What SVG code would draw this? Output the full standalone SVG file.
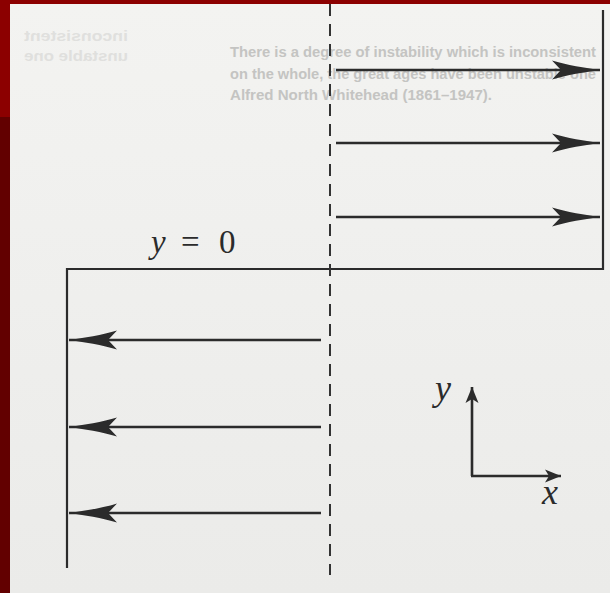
<svg xmlns="http://www.w3.org/2000/svg" width="610" height="593" viewBox="0 0 610 593">
<style>
.ln{stroke:#2b2b2b;fill:none;stroke-linecap:butt}
.arr{stroke:#2b2b2b;stroke-width:2.6;fill:none}
.dash{stroke:#333;stroke-width:2;stroke-dasharray:12 8;fill:none}
.bleed{font-family:"Liberation Sans",Arial,sans-serif;font-weight:bold;font-size:14px;fill:#c4c4c2}
.math{font-family:"Liberation Serif","Times New Roman",serif;fill:#2b2b2b}
</style>
<defs>
<marker id="big" markerUnits="userSpaceOnUse" markerWidth="52" markerHeight="22" viewBox="-50 -11 52 22" refX="0" refY="0" orient="auto">
<path d="M0,0 C-14,-2 -34,-5 -48,-9.5 L-39,0 L-48,9.5 C-34,5 -14,2 0,0 Z" fill="#2b2b2b"/>
</marker>
<marker id="small" markerUnits="userSpaceOnUse" markerWidth="20" markerHeight="16" viewBox="-18 -8 20 16" refX="0" refY="0" orient="auto">
<path d="M0,0 L-16,-6.5 L-12,0 L-16,6.5 Z" fill="#2b2b2b"/>
</marker>
<linearGradient id="paper" x1="0" y1="0" x2="0" y2="1">
<stop offset="0" stop-color="#f3f3f1"/>
<stop offset="1" stop-color="#ebebe9"/>
</linearGradient>
</defs>
<rect x="0" y="0" width="610" height="593" fill="#8c0000"/>
<rect x="0" y="117" width="10" height="476" fill="#620000"/>
<rect x="10" y="4" width="600" height="589" fill="url(#paper)"/>
<g id="bleed-text">
<text class="bleed" x="230" y="57" textLength="366" lengthAdjust="spacingAndGlyphs">There is a degree of instability which is inconsistent</text>
<text class="bleed" x="230" y="79" textLength="366" lengthAdjust="spacingAndGlyphs">on the whole, the great ages have been unstable one</text>
<text class="bleed" x="230" y="100" textLength="262" lengthAdjust="spacingAndGlyphs">Alfred North Whitehead (1861–1947).</text>
<g opacity="0.4">
<text class="bleed" transform="translate(128,0) scale(-1,1)" x="0" y="41" textLength="104" lengthAdjust="spacingAndGlyphs">inconsistent</text>
<text class="bleed" transform="translate(128,0) scale(-1,1)" x="0" y="61" textLength="104" lengthAdjust="spacingAndGlyphs">unstable one</text>
</g>
</g>
<g id="frame">
<path class="ln" stroke-width="2.2" d="M603,10 V269 H67 V568"/>
</g>
<g id="divider">
<path class="dash" d="M330,4 V575"/>
</g>
<g id="label-y0">
<text class="math" y="253" font-size="33"><tspan x="151" font-style="italic">y</tspan><tspan x="181">=</tspan><tspan x="219">0</tspan></text>
</g>
<g id="connectors">
<path class="arr" marker-end="url(#big)" d="M336,70 H600"/>
<path class="arr" marker-end="url(#big)" d="M336,143 H600"/>
<path class="arr" marker-end="url(#big)" d="M336,217 H600"/>
<path class="arr" marker-end="url(#big)" d="M321,340 H69"/>
<path class="arr" marker-end="url(#big)" d="M321,427 H69"/>
<path class="arr" marker-end="url(#big)" d="M321,513 H69"/>
</g>
<g id="axes">
<path class="arr" stroke-width="3" marker-end="url(#small)" d="M472,476 V387"/>
<path class="arr" stroke-width="3" marker-end="url(#small)" d="M471,476 H561"/>
<text class="math" font-size="36" font-style="italic" x="435" y="400">y</text>
<text class="math" font-size="36" font-style="italic" x="542" y="504">x</text>
</g>
</svg>
